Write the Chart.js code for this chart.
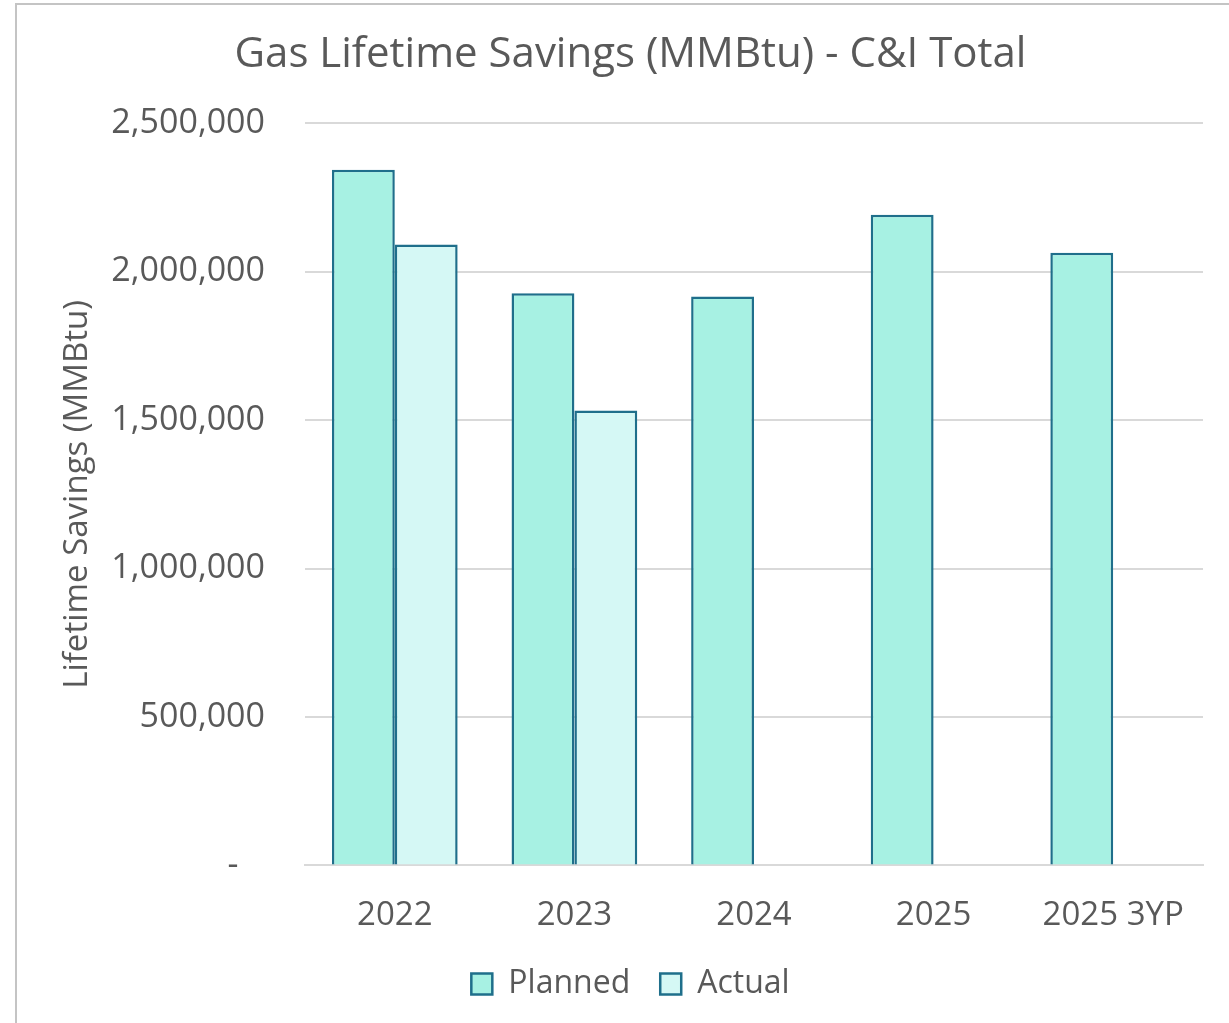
<!DOCTYPE html>
<html>
<head>
<meta charset="utf-8">
<script src="https://cdn.jsdelivr.net/npm/chart.js@4.4.1/dist/chart.umd.min.js"></script>
<style>
html,body{margin:0;padding:0;background:#fff;width:1229px;height:1023px;overflow:hidden;}
#frame{position:absolute;left:15px;top:3px;width:1214px;height:1020px;border-left:2px solid #c4c4c4;border-top:2px solid #c4c4c4;box-sizing:border-box;}
#wrap{position:absolute;left:17px;top:5px;width:1212px;height:1018px;}
</style>
</head>
<body>
<div id="frame"></div>
<div id="wrap"><canvas id="c" width="1212" height="1018"></canvas></div>
<script>
const categories = ['2022', '2023', '2024', '2025', '2025 3YP'];
const plannedValues = [2344000, 1928000, 1917000, 2192000, 2064000];
const actualValues = [2092000, 1533000, null, null, null];
const yTickValues = [0, 500000, 1000000, 1500000, 2000000, 2500000];
const chartTitle = 'Gas Lifetime Savings (MMBtu) - C&I Total';
const yAxisTitle = 'Lifetime Savings (MMBtu)';

const FONT = "'Open Sans', 'Noto Sans', sans-serif";
const TEXT = '#595959';
const EDGE = '#1f6f8b';

new Chart(document.getElementById('c'), {
  type: 'bar',
  data: {
    labels: categories,
    datasets: [
      {label: 'Planned', data: plannedValues, backgroundColor: '#a7f1e3', borderColor: EDGE, borderWidth: 2.5},
      {label: 'Actual', data: actualValues, backgroundColor: '#d5f8f5', borderColor: EDGE, borderWidth: 2.5}
    ]
  },
  options: {
    responsive: false,
    animation: false,
    devicePixelRatio: 1,
    layout: {padding: {left: 41, right: 26, top: 0, bottom: 13}},
    datasets: {bar: {categoryPercentage: 0.7, barPercentage: 1.0}},
    plugins: {
      title: {
        display: true, text: chartTitle, color: TEXT,
        font: {family: FONT, size: 42, weight: 'normal'},
        padding: {top: 25, bottom: 43}
      },
      legend: {
        position: 'bottom',
        labels: {
          color: TEXT, font: {family: FONT, size: 32},
          boxWidth: 21, boxHeight: 21, padding: 30,
          generateLabels(chart) {
            return chart.data.datasets.map((ds, i) => ({
              text: ds.label, fillStyle: ds.backgroundColor, strokeStyle: EDGE,
              lineWidth: 2.5, hidden: false, datasetIndex: i, fontColor: TEXT
            }));
          }
        }
      },
      tooltip: {enabled: false}
    },
    scales: {
      x: {
        grid: {display: false, drawTicks: false},
        border: {display: true, color: '#d9d9d9', width: 2},
        ticks: {color: TEXT, font: {family: FONT, size: 33}, padding: 30},
        afterFit(scale) { scale.height = scale.height - 27; }
      },
      y: {
        min: 0, max: 2500000,
        afterBuildTicks(scale) { scale.ticks = yTickValues.map(v => ({value: v})); },
        afterFit(scale) { scale.width = 247; },
        grid: {color: '#d9d9d9', lineWidth: 2, drawTicks: false},
        border: {display: false},
        ticks: {
          color: TEXT, font: {family: FONT, size: 34}, padding: 40,
          callback: v => v === 0 ? '-   ' : v.toLocaleString('en-US')
        },
        title: {
          display: true, text: yAxisTitle, color: TEXT,
          font: {family: FONT, size: 33}, padding: {top: 0, bottom: 0}
        }
      }
    }
  }
});
</script>
</body>
</html>
